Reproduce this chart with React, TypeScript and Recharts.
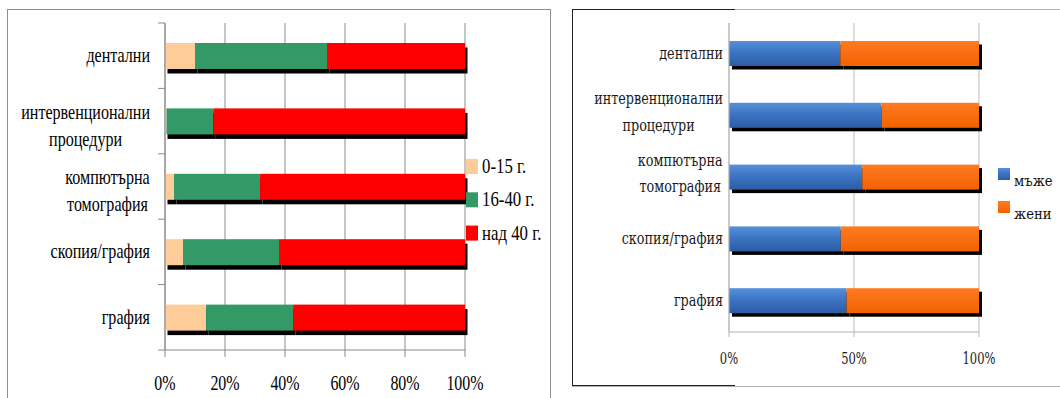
import React, { useLayoutEffect, useRef, useState } from 'react';
import { BarChart, Bar, XAxis, YAxis, CartesianGrid, Legend } from 'recharts';

// категории (отгоре надолу)
const procedures = ['дентални', 'интервенционални\nпроцедури', 'компютърна\nтомография', 'скопия/графия', 'графия'];

// разпределение по възраст, %
const age0to15 = [10, 0.5, 3, 6, 13.7];
const age16to40 = [44, 15.6, 28.7, 32, 29];
const ageOver40 = [46, 83.9, 68.3, 62, 57.3];
const ageNames = ['0-15 г.', '16-40 г.', 'над 40 г.'];

// разпределение по пол, %
const men = [44.5, 61, 53.3, 44.7, 47];
const women = [55.5, 39, 46.7, 55.3, 53];
const sexNames = ['мъже', 'жени'];

const ageTicks = [0, 20, 40, 60, 80, 100];
const sexTicks = [0, 50, 100];

const ageData = procedures.map((name, i) => ({ name, s1: age0to15[i], s2: age16to40[i], s3: ageOver40[i] }));
const sexData = procedures.map((name, i) => ({ name, s1: men[i], s2: women[i] }));

const LEFT_FONT = 'Liberation Serif';
const RIGHT_FONT = 'DejaVu Serif';

// bar with a black drop shadow, like the old Excel charts
const shadowBar = (dx: number, dy: number) => (p: any) => {
  const { x, y, width, height, fill } = p;
  if (!width || !height) return <g />;
  return (
    <g>
      <rect x={x + dx} y={y + dy} width={width} height={height} fill="#000" />
      <rect x={x} y={y} width={width} height={height} fill={fill} />
    </g>
  );
};

type TickCfg = {
  gap: number;
  sx: number;
  size: number;
  family: string;
  color: string;
  one: number;
  two: number[];
  tickLen: number;
  half: number;
  stroke: string;
};

// category label: lines centred as a block, block right-aligned to the axis
function CategoryTick(props: any) {
  const { x, y, payload, index, cfg } = props as { x: number; y: number; payload: any; index: number; cfg: TickCfg };
  const lines: string[] = String(payload.value).split('\n');
  const ref = useRef<SVGGElement>(null);
  const [right, setRight] = useState(50);
  useLayoutEffect(() => {
    if (ref.current) {
      const b = ref.current.getBBox();
      setRight(b.x + b.width);
    }
  }, [payload.value]);
  const offs = lines.length > 1 ? cfg.two : [cfg.one];
  return (
    <g>
      {cfg.tickLen > 0 && index === 0 && (
        <line x1={x - cfg.tickLen} x2={x} y1={y - cfg.half} y2={y - cfg.half} stroke={cfg.stroke} />
      )}
      {cfg.tickLen > 0 && (
        <line x1={x - cfg.tickLen} x2={x} y1={y + cfg.half} y2={y + cfg.half} stroke={cfg.stroke} />
      )}
      <g transform={`translate(${x - cfg.gap - right * cfg.sx}, ${y}) scale(${cfg.sx}, 1)`}>
        <g ref={ref}>
          {lines.map((t, i) => (
            <text key={i} x={0} y={offs[i]} textAnchor="middle" style={{ fontFamily: cfg.family, fontSize: cfg.size }} fill={cfg.color}>
              {t}
            </text>
          ))}
        </g>
      </g>
    </g>
  );
}

function PctTick(props: any) {
  const { x, y, payload, dy, sx, size, family, color } = props;
  return (
    <g transform={`translate(${x}, ${y + dy}) scale(${sx}, 1)`}>
      <text x={0} y={0} textAnchor="middle" style={{ fontFamily: family, fontSize: size }} fill={color}>
        {payload.value}%
      </text>
    </g>
  );
}

function legendBox(names: string[], opt: { w: number; h: number; step: number; tx: number; ty: number; size: number; family: string; sx: number; color: string }) {
  return (props: any) => {
    const items: any[] = props.payload || [];
    const ordered = names.map((n) => items.find((it) => it.value === n)).filter(Boolean);
    return (
      <svg width={110} height={names.length * opt.step + 10} style={{ overflow: 'visible', display: 'block' }}>
        {ordered.map((it: any, i: number) => (
          <g key={it.value} transform={`translate(0, ${i * opt.step})`}>
            <rect x={0} y={0} width={opt.w} height={opt.h} fill={it.color} />
            <g transform={`translate(${opt.tx}, ${opt.ty}) scale(${opt.sx}, 1)`}>
              <text x={0} y={0} style={{ fontFamily: opt.family, fontSize: opt.size }} fill={opt.color}>
                {it.value}
              </text>
            </g>
          </g>
        ))}
      </svg>
    );
  };
}

const leftCat: TickCfg = {
  gap: 15, sx: 0.73, size: 22, family: LEFT_FONT, color: '#000',
  one: 6.5, two: [-2.5, 24.5], tickLen: 7, half: 32.7, stroke: '#8a8a8a',
};
const rightCat: TickCfg = {
  gap: 6, sx: 0.8, size: 16, family: RIGHT_FONT, color: '#1a1a1a',
  one: 5, two: [-12, 15], tickLen: 0, half: 30.9, stroke: '#b5b5b5',
};

const AgeLegend = legendBox(ageNames, { w: 12, h: 15, step: 33.3, tx: 16, ty: 14, size: 21, family: LEFT_FONT, sx: 0.8, color: '#000' });
const SexLegend = legendBox(sexNames, { w: 12, h: 12, step: 33, tx: 16, ty: 18, size: 15, family: RIGHT_FONT, sx: 0.88, color: '#111' });

export default function App() {
  return (
    <div style={{ position: 'fixed', left: 0, top: 0, width: 1060, height: 398, background: '#fff', overflow: 'hidden' }}>
      {/* left frame */}
      <div style={{ position: 'absolute', left: 7, top: 9, width: 542, height: 400, borderLeft: '1px solid #8f8f8f', borderTop: '1px solid #8f8f8f', borderRight: '1px solid #8f8f8f' }} />
      {/* right frame */}
      <div style={{ position: 'absolute', left: 572, top: 9, width: 520, height: 376, border: '1px solid #b0b0b0' }} />
      <div style={{ position: 'absolute', left: 572, top: 9, width: 163, height: 1, background: '#222' }} />
      <div style={{ position: 'absolute', left: 572, top: 385, width: 163, height: 1, background: '#222' }} />
      <div style={{ position: 'absolute', left: 572, top: 9, width: 1, height: 377, background: '#222' }} />

      <div style={{ position: 'absolute', left: 0, top: 0 }}>
        <BarChart width={560} height={398} data={ageData} layout="vertical" barSize={26} margin={{ top: 23, right: 95, bottom: 8, left: 15 }}>
          <CartesianGrid horizontal={false} stroke="#8c8c8c" />
          <XAxis
            type="number"
            domain={[0, 100]}
            ticks={ageTicks}
            height={40}
            stroke="#8a8a8a"
            tickSize={7}
            tickMargin={0}
            tick={(p: any) => <PctTick {...p} dy={33} sx={0.76} size={21} family={LEFT_FONT} color="#000" />}
          />
          <YAxis
            type="category"
            dataKey="name"
            width={150}
            interval={0}
            stroke="#8a8a8a"
            tickLine={false}
            tickSize={0}
            tickMargin={0}
            tick={(p: any) => <CategoryTick {...p} cfg={leftCat} />}
          />
          <Legend
            layout="vertical"
            align="center"
            verticalAlign="middle"
            content={AgeLegend}
            wrapperStyle={{ left: 466, top: 159, width: 110, height: 110 }}
          />
          <Bar dataKey="s1" name={ageNames[0]} stackId="a" fill="#FECC99" shape={shadowBar(2.5, 4.5)} isAnimationActive={false} />
          <Bar dataKey="s2" name={ageNames[1]} stackId="a" fill="#339966" shape={shadowBar(2.5, 4.5)} isAnimationActive={false} />
          <Bar dataKey="s3" name={ageNames[2]} stackId="a" fill="#FF0000" shape={shadowBar(2.5, 4.5)} isAnimationActive={false} />
        </BarChart>
      </div>

      <div style={{ position: 'absolute', left: 572, top: 0 }}>
        <BarChart width={488} height={398} data={sexData} layout="vertical" barSize={25} margin={{ top: 23, right: 81, bottom: 26, left: 7 }}>
          <defs>
            <linearGradient id="menFill" x1="0" y1="0" x2="0" y2="1">
              <stop offset="0%" stopColor="#5690DA" />
              <stop offset="45%" stopColor="#3C74C3" />
              <stop offset="100%" stopColor="#2C5DA6" />
            </linearGradient>
            <linearGradient id="womenFill" x1="0" y1="0" x2="0" y2="1">
              <stop offset="0%" stopColor="#FF7A22" />
              <stop offset="100%" stopColor="#F26200" />
            </linearGradient>
          </defs>
          <CartesianGrid horizontal={false} stroke="#bcbcbc" />
          <XAxis
            type="number"
            domain={[0, 100]}
            ticks={sexTicks}
            height={40}
            stroke="#b5b5b5"
            tickSize={5}
            tickMargin={0}
            tick={(p: any) => <PctTick {...p} dy={27} sx={0.72} size={16} family={RIGHT_FONT} color="#1a1a1a" />}
          />
          <YAxis
            type="category"
            dataKey="name"
            width={150}
            interval={0}
            stroke="#b5b5b5"
            tickLine={false}
            tickSize={0}
            tickMargin={0}
            tick={(p: any) => <CategoryTick {...p} cfg={rightCat} />}
          />
          <Legend
            layout="vertical"
            align="center"
            verticalAlign="middle"
            content={SexLegend}
            wrapperStyle={{ left: 426, top: 168, width: 80, height: 80 }}
          />
          <Bar dataKey="s1" name={sexNames[0]} stackId="a" fill="url(#menFill)" shape={shadowBar(3, 3.5)} isAnimationActive={false} />
          <Bar dataKey="s2" name={sexNames[1]} stackId="a" fill="url(#womenFill)" shape={shadowBar(3, 3.5)} isAnimationActive={false} />
        </BarChart>
      </div>
    </div>
  );
}
